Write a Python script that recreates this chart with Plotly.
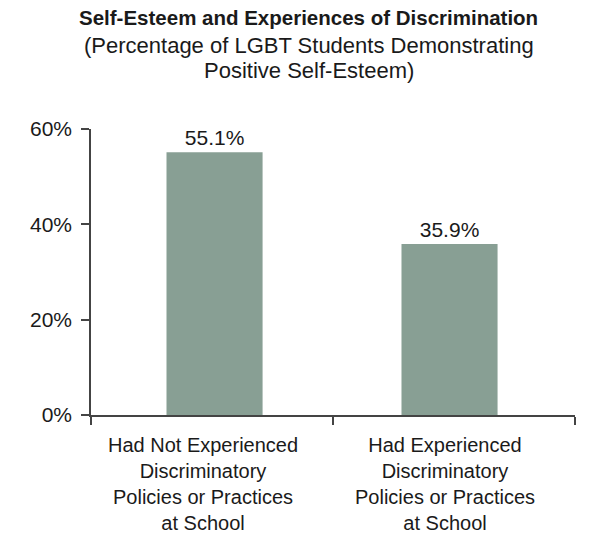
import plotly.graph_objects as go

categories = [
    "Had Not Experienced<br>Discriminatory<br>Policies or Practices<br>at School",
    "Had Experienced<br>Discriminatory<br>Policies or Practices<br>at School",
]
values = [55.1, 35.9]
value_labels = ["55.1%", "35.9%"]
y_ticks = [0, 20, 40, 60]
y_tick_labels = ["0%", "20%", "40%", "60%"]

title_text = "Self-Esteem and Experiences of Discrimination"
subtitle_lines = ["(Percentage of LGBT Students Demonstrating", "Positive Self-Esteem)"]

FONT = "Liberation Sans, Arial, sans-serif"
TEXT = "#1a1a1a"

fig = go.Figure()
fig.add_trace(go.Bar(
    x=categories,
    y=values,
    text=value_labels,
    textposition="outside",
    textfont=dict(family=FONT, size=21, color=TEXT),
    marker=dict(color="#889f94", line=dict(width=0)),
    width=0.397,
    offset=[-0.188, -0.217],
    cliponaxis=False,
    showlegend=False,
))

fig.add_annotation(
    text=f"<b>{title_text}</b>",
    xref="paper", yref="paper", x=0.45, y=1.389,
    xanchor="center", yanchor="middle", showarrow=False,
    font=dict(family=FONT, size=20.5, color=TEXT),
)
for line, ypos in zip(subtitle_lines, [1.292, 1.205]):
    fig.add_annotation(
        text=line,
        xref="paper", yref="paper", x=0.45, y=ypos,
        xanchor="center", yanchor="middle", showarrow=False,
        font=dict(family=FONT, size=22, color=TEXT),
    )

fig.update_layout(
    width=602,
    height=538,
    margin=dict(l=83, r=35, t=121, b=129),
    paper_bgcolor="white",
    plot_bgcolor="white",
    font=dict(family=FONT, size=20, color=TEXT),
    bargap=0.6,
)

fig.update_xaxes(
    type="category",
    range=[-0.5, 1.5],
    showline=True,
    linecolor="#444",
    linewidth=1.5,
    ticks="outside",
    tickson="boundaries",
    ticklen=8,
    tickcolor="#444",
    tickwidth=1.5,
    showgrid=False,
    ticklabelstandoff=11,
    ticklabelshift=-9,
    tickfont=dict(family=FONT, size=20, color=TEXT),
)
fig.update_yaxes(
    range=[0, 60],
    tickvals=y_ticks,
    ticktext=y_tick_labels,
    showline=True,
    linecolor="#444",
    linewidth=1.5,
    ticks="outside",
    ticklen=8,
    tickcolor="#444",
    tickwidth=1.5,
    showgrid=False,
    zeroline=False,
    ticklabelstandoff=5,
    tickfont=dict(family=FONT, size=21, color=TEXT),
)

fig.write_html("out.html")
